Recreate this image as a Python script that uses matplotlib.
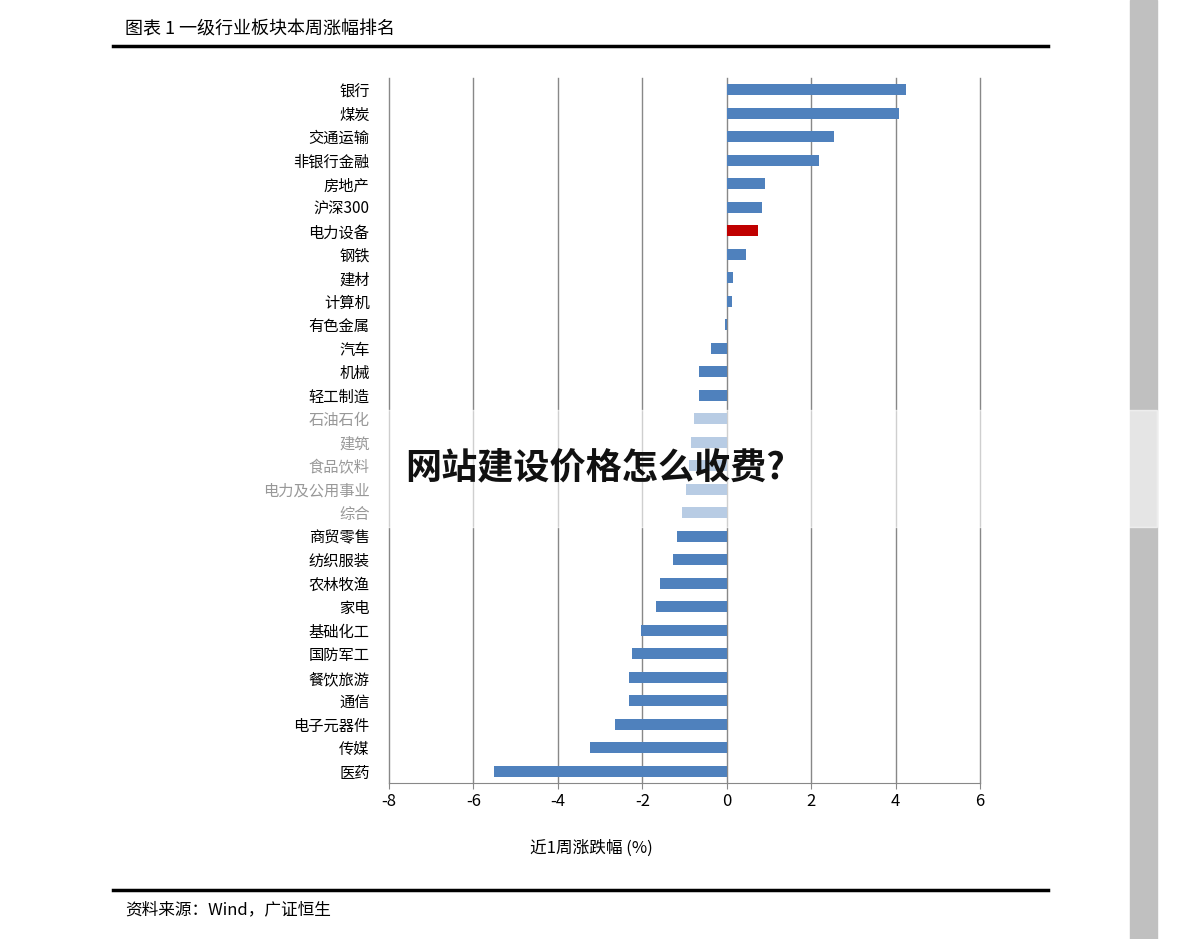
import matplotlib
matplotlib.use("Agg")
import matplotlib.pyplot as plt
from matplotlib.patches import Rectangle

plt.rcParams['font.family'] = ['Noto Sans CJK SC', 'DejaVu Sans']
plt.rcParams['axes.unicode_minus'] = False

categories = ["银行","煤炭","交通运输","非银行金融","房地产","沪深300","电力设备","钢铁","建材","计算机",
              "有色金属","汽车","机械","轻工制造","石油石化","建筑","食品饮料","电力及公用事业","综合",
              "商贸零售","纺织服装","农林牧渔","家电","基础化工","国防军工","餐饮旅游","通信","电子元器件","传媒","医药"]
values = [4.24,4.08,2.54,2.18,0.9,0.83,0.73,0.45,0.14,0.12,
          -0.05,-0.38,-0.66,-0.66,-0.78,-0.85,-0.9,-0.97,-1.07,
          -1.18,-1.28,-1.59,-1.68,-2.04,-2.25,-2.32,-2.32,-2.65,-3.25,-5.52]
highlight = "电力设备"
xticks = list(range(-8, 7, 2))

fig = plt.figure(figsize=(11.91, 9.39), dpi=100)
W, H = 1191, 939
ax = fig.add_axes([389/W, 1-783/H, (980-389)/W, (783-78)/H])
colors = ["#c00000" if c == highlight else "#4f81bd" for c in categories]
y = list(range(len(categories)))
ax.barh(y, values, height=0.45, color=colors, zorder=3)
ax.set_ylim(len(categories)-0.5, -0.5)
ax.set_xlim(-8, 6)
ax.set_xticks(xticks)
ax.set_yticks(y)
ax.set_yticklabels(categories, fontsize=11)
ax.tick_params(axis='y', length=0, pad=14)
ax.tick_params(axis='x', labelsize=12, length=4, color='#888888')
for t in xticks:
    ax.axvline(t, color='#888888', lw=1, zorder=0, clip_on=False)
for s in ['top', 'right', 'left']:
    ax.spines[s].set_visible(False)
ax.spines['bottom'].set_color('#888888')
fig.text(591/W, 1-848/H, "近1周涨跌幅 (%)", fontsize=12, ha='center', va='center')

fig.text(125/W, 1-30/H, "图表 1 一级行业板块本周涨幅排名", fontsize=13, va='center', ha='left')
fig.add_artist(plt.Line2D([113/W, 1048/W], [1-46/H]*2, color='black', lw=2.5))
fig.add_artist(plt.Line2D([113/W, 1048/W], [1-890/H]*2, color='black', lw=2.5))
fig.text(125/W, 1-910/H, "资料来源：Wind，广证恒生", fontsize=12, va='center', ha='left')

fig.add_artist(Rectangle((1130/W, 0), 27/W, 1, transform=fig.transFigure, color='#c0c0c0', zorder=0))
fig.add_artist(Rectangle((0, 1-527/H), 1157/W, 117/H, transform=fig.transFigure,
                         color='white', alpha=0.6, zorder=10))
fig.text(595/W, 1-468/H, "网站建设价格怎么收费?", fontsize=26, fontweight='bold',
         ha='center', va='center', color='#111111', zorder=11)

fig.savefig("out.png", dpi=100)
